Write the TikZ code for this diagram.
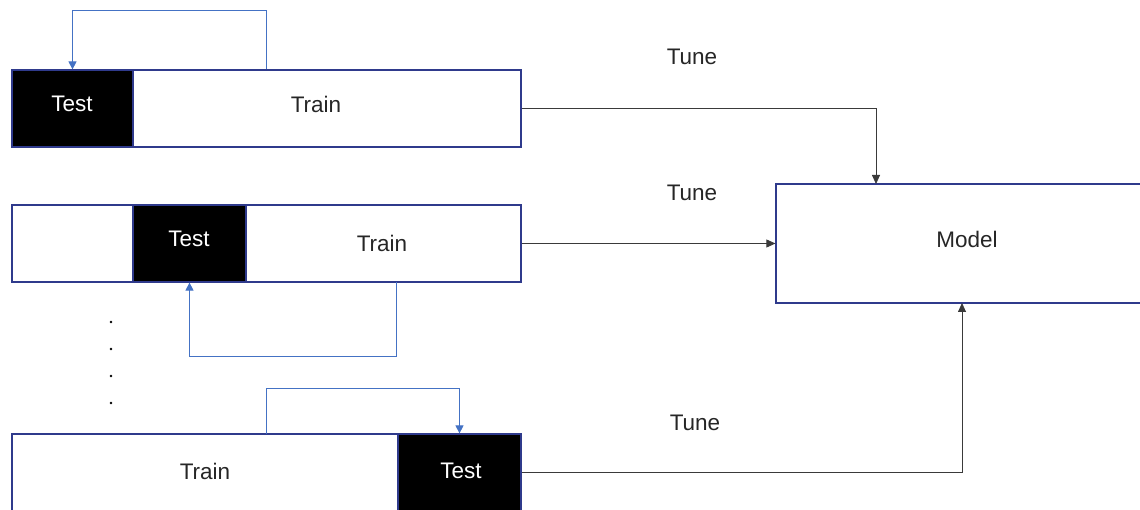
\documentclass[tikz,border=0pt]{standalone}
\usepackage{fontspec}
\setmainfont{Liberation Sans}
\usetikzlibrary{arrows.meta}
\definecolor{boxblue}{HTML}{2F3A8C}
\definecolor{loopblue}{HTML}{4472C4}
\definecolor{conn}{HTML}{3A3A3A}
\begin{document}
\begin{tikzpicture}[x=1pt,y=-1pt,
  lbl/.style={font=\fontsize{22.5}{26}\selectfont, text=black!85},
  wlbl/.style={font=\fontsize{22.5}{26}\selectfont, text=white},
  bar/.style={draw=boxblue, line width=1.2pt, fill=white, minimum height=77pt, inner sep=0pt},
  testbox/.style={draw=boxblue, line width=1.2pt, fill=black, minimum height=77pt, inner sep=0pt},
  modelbox/.style={draw=boxblue, line width=1.2pt, fill=white, minimum width=384pt, minimum height=119pt, inner sep=0pt},
  loop/.style={draw=loopblue, line width=0.9pt, -{Triangle[length=8pt,width=8pt]}},
  arr/.style={draw=conn, line width=0.8pt, -{Triangle[length=9pt,width=8pt]}},
  dotmark/.style={fill=black, draw=none}]
\useasboundingbox (0,0) rectangle (1140,510);
\clip (0,0) rectangle (1140,510);
% row 1
\node[bar, minimum width=509pt] (out1) at (266.5,108.5) {};
\node[testbox, minimum width=121pt] (test1) at (72.5,108.5) {};
\node[wlbl] (test1t) at (72,104) {Test};
\node[lbl] (train1) at (316,104) {Train};
% row 2
\node[bar, minimum width=509pt] (out2) at (266.5,243.5) {};
\node[testbox, minimum width=113pt] (test2) at (189.5,243.5) {};
\node[wlbl] (test2t) at (189,239) {Test};
\node[lbl] (train2) at (382,243) {Train};
% row 3
\node[bar, minimum width=509pt] (out3) at (266.5,472.5) {};
\node[testbox, minimum width=123pt] (test3) at (459.5,472.5) {};
\node[wlbl] (test3t) at (461,471) {Test};
\node[lbl] (train3) at (205,471) {Train};
% model
\node[modelbox] (model) at (968,243.5) {};
\node[lbl] (modelt) at (967,239) {Model};
% tune labels
\node[lbl] (tune1) at (692,57) {Tune};
\node[lbl] (tune2) at (692,193) {Tune};
\node[lbl] (tune3) at (695,423) {Tune};
% dots
\foreach \yy in {322,349,376,403} {
  \fill[dotmark] (111,\yy) circle (1.4pt);
}
% loops
\draw[loop] (out1.north) -- ++(0,-59) -| (test1.north);
\coordinate (l2) at (396,282);
\draw[loop] (l2) -- ++(0,74) -| (test2.south);
\coordinate (l3) at (266,434);
\draw[loop] (l3) -- ++(0,-46) -| (test3.north);
% connectors to model
\coordinate (m1) at (876,184);
\coordinate (m3) at (962,303);
\draw[arr] (out1.east) -| (m1);
\draw[arr] (out2.east) -- (model.west);
\draw[arr] (out3.east) -| (m3);
\end{tikzpicture}
\end{document}
